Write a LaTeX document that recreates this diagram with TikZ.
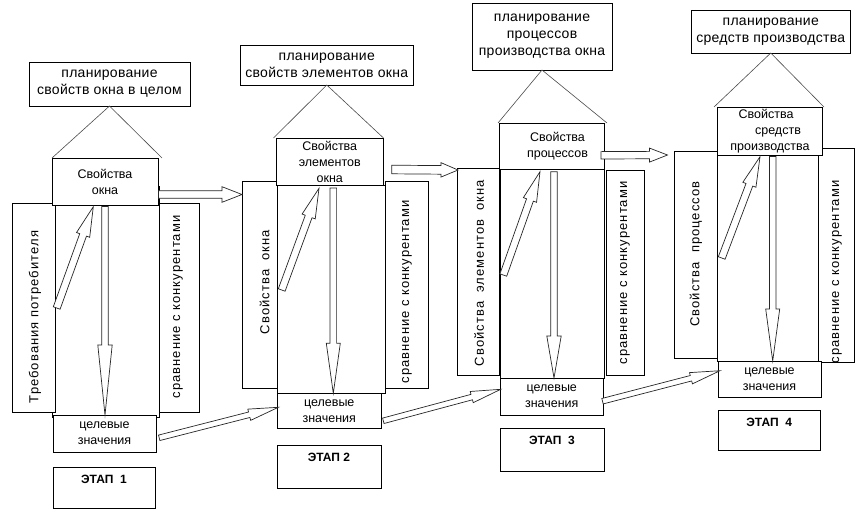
\documentclass[tikz,border=0pt]{standalone}
\usepackage{fontspec}
\setmainfont{Liberation Sans}
\newfontfamily\spacedfont{Liberation Sans}[LetterSpace=8]
\newfontfamily\titlefont{Liberation Sans}[LetterSpace=2]
\usetikzlibrary{calc}
\tikzset{
  box/.style={draw=black, fill=white, line width=0.9pt, inner sep=0pt, outer sep=0pt, align=center, font=\fontsize{12.5}{16}\selectfont},
  titlebox/.style={box, font=\titlefont\fontsize{14}{17}\selectfont},
  sidelbl/.style={rotate=90, font=\spacedfont\fontsize{13}{15}\selectfont, inner sep=0pt},
  stagelbl/.style={font=\bfseries\fontsize{12}{14}\selectfont, anchor=north, inner sep=0pt},
  roof/.style={draw=black!70, line width=0.6pt},
  harrow/.style={draw=black!85, fill=white, line width=0.7pt, line join=miter},
}
\newcommand\rbox[7][]{\node[box,#1,minimum width={(#5-#3)*1pt},minimum height={(#6-#4)*1pt}] (#2) at ({(#3+#5)/2},{(#4+#6)/2}) {#7};}
\newcommand\barrow[5]{%
  \coordinate (tmph) at ($(#2)!#5!(#1)$);
  \draw[harrow] ($(#1)!#3!90:(#2)$) -- ($(tmph)!#3!90:(#2)$) -- ($(tmph)!#4!90:(#2)$) -- (#2) -- ($(tmph)!#4!-90:(#2)$) -- ($(tmph)!#3!-90:(#2)$) -- ($(#1)!#3!-90:(#2)$) -- cycle;}
\begin{document}
\begin{tikzpicture}[x=1pt,y=-1pt]
\path[use as bounding box, fill=white] (0,0) rectangle (862,512);

% ---------- Stage 1
\rbox{b1}{52}{186}{159}{417}{}
\rbox{l1}{12}{203}{55}{412}{}
\rbox{r1}{159}{203}{199}{412}{}
\rbox{u1}{52}{158}{158}{205}{Свойства\\окна}
\rbox{v1}{53}{415}{156}{452}{целевые\\значения}
\rbox{e1}{53}{467}{155}{508}{}
\rbox[titlebox]{t1}{29}{62}{190}{106}{планирование\\свойств окна в целом}
\node[sidelbl] (lt1) at (35,317) {Требования потребителя};
\node[sidelbl] (rt1) at (178,307) {сравнение с конкурентами};
\node[stagelbl] (et1) at ($(e1.north)+(0,8)$) {ЭТАП\ \ 1};
\draw[roof] (u1.north west) -- (t1.south) -- ($(u1.north east)+(4,0)$);
\coordinate (p1a) at (56.7,308); \coordinate (p1b) at (93.3,206.7);
\barrow{p1a}{p1b}{3.6pt}{7pt}{30pt}
\coordinate (q1a) at (105,206.5); \coordinate (q1b) at (105,415);
\barrow{q1a}{q1b}{3.3pt}{7.2pt}{70pt}

% ---------- Stage 2
\rbox{l2}{242.5}{181.5}{285}{388.5}{}
\rbox{r2}{385}{181.5}{428.5}{388.5}{}
\rbox{b2}{277.5}{185}{385}{393}{}
\rbox{u2}{276}{138}{383.5}{185}{Свойства\\элементов\\окна}
\rbox{v2}{277.5}{393}{381}{428.5}{целевые\\значения}
\rbox{e2}{277}{445}{381}{488}{}
\rbox[titlebox]{t2}{240.5}{45}{413}{85}{планирование\\свойств элементов окна}
\node[sidelbl] (lt2) at (264.5,282) {Свойства\ \ окна};
\node[sidelbl] (rt2) at (407,292) {сравнение с конкурентами};
\node[stagelbl] (et2) at ($(e2.north)+(0,8)$) {ЭТАП 2};
\draw[roof] ($(u2.north west)+(-2.5,0)$) -- (t2.south) -- (u2.north east);
\coordinate (p2a) at (281.7,290); \coordinate (p2b) at (319,188.3);
\barrow{p2a}{p2b}{3.6pt}{7pt}{30pt}
\coordinate (q2a) at (333.3,188); \coordinate (q2b) at (333.3,393.3);
\barrow{q2a}{q2b}{3.3pt}{7pt}{50pt}

% ---------- Stage 3
\rbox{l3}{457}{168}{499}{375}{}
\rbox{r3}{606}{170}{644}{375}{}
\rbox{b3}{500}{169}{604}{378}{}
\rbox{u3}{499}{123}{604}{169}{\hspace*{12pt}Свойства\\\hspace*{12pt}процессов}
\rbox{v3}{500}{378}{603.5}{415}{целевые\\значения}
\rbox{e3}{500}{428}{604}{471}{}
\rbox[titlebox]{t3}{472}{3}{612}{70}{планирование\\процессов\\производства окна}
\node[sidelbl] (lt3) at (479,273) {Свойства\ \ элементов\ \ окна};
\node[sidelbl] (rt3) at (625,273) {сравнение с конкурентами};
\node[stagelbl] (et3) at ($(e3.north)+(0,8)$) {ЭТАП\ \ 3};
\draw[roof] ($(u3.north west)+(-1,0)$) -- (t3.south) -- ($(u3.north east)+(3,0)$);
\coordinate (p3a) at (503.3,275); \coordinate (p3b) at (540,171.7);
\barrow{p3a}{p3b}{3.6pt}{7pt}{30pt}
\coordinate (q3a) at (554,171.7); \coordinate (q3b) at (554,378);
\barrow{q3a}{q3b}{3.3pt}{7.2pt}{42pt}

% ---------- Stage 4
\rbox{l4}{674}{151}{717}{358}{}
\rbox{r4}{818}{148}{854}{362}{}
\rbox{b4}{717.5}{155}{818}{361}{}
\rbox{u4}{717.5}{107}{822.5}{155}{Свойства\hspace*{8pt}\\\hspace*{16pt}средств\\производства}
\rbox{v4}{718}{361}{821}{397}{целевые\\значения}
\rbox{e4}{718}{410}{820.5}{450}{}
\rbox[titlebox]{t4}{691}{10}{850.5}{53}{планирование\\средств производства}
\node[sidelbl] (lt4) at (696,254) {Свойства\ \ процессов};
\node[sidelbl] (rt4) at (837,272) {сравнение с конкурентами};
\node[stagelbl] (et4) at ($(e4.north)+(0,8)$) {ЭТАП\ \ 4};
\draw[roof] ($(u4.north west)+(-3.5,0)$) -- (t4.south) -- ($(u4.north east)+(1.5,0)$);
\coordinate (p4a) at (721.7,258); \coordinate (p4b) at (760,156.7);
\barrow{p4a}{p4b}{3.6pt}{7pt}{30pt}
\coordinate (q4a) at (772.7,156.5); \coordinate (q4b) at (772.7,361);
\barrow{q4a}{q4b}{3.3pt}{7pt}{52pt}

% ---------- Arrows between stages (top)
\coordinate (h1s) at (158.5,194.5); \coordinate (h1e) at (242,194.5);
\barrow{h1s}{h1e}{3.8pt}{7.8pt}{20pt}
\coordinate (h2s) at (391.7,169.5); \coordinate (h2e) at (458,170);
\barrow{h2s}{h2e}{4.3pt}{7.2pt}{17pt}
\coordinate (h3s) at (601,155.3); \coordinate (h3e) at (667.5,155);
\barrow{h3s}{h3e}{3.7pt}{7pt}{18pt}

% ---------- Arrows between stages (bottom)
\coordinate (g1s) at (159.2,437.8); \coordinate (g1e) at (278.3,407.3);
\barrow{g1s}{g1e}{2.8pt}{5.8pt}{30pt}
\coordinate (g2s) at (383.3,420.8); \coordinate (g2e) at (500.7,389.3);
\barrow{g2s}{g2e}{2.8pt}{5.8pt}{30pt}
\coordinate (g3s) at (602.5,401.2); \coordinate (g3e) at (720,370.7);
\barrow{g3s}{g3e}{2.8pt}{5.8pt}{30pt}
\end{tikzpicture}
\end{document}
